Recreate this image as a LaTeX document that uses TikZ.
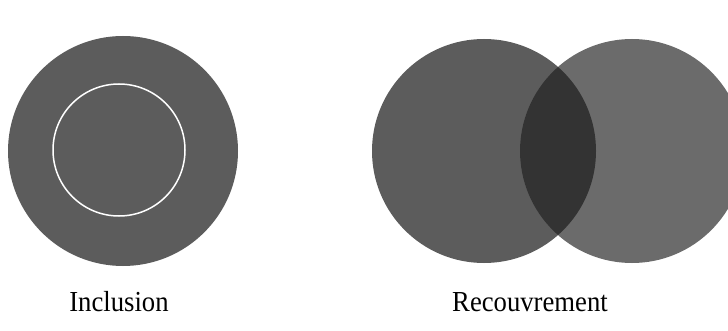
\documentclass[tikz,border=0pt]{standalone}
\usepackage{fontspec}
\setmainfont{Liberation Serif}
\begin{document}
\begin{tikzpicture}[x=1pt,y=-1pt,
  disc/.style={circle,inner sep=0pt,draw=none},
  lbl/.style={anchor=base,inner sep=0pt,xscale=0.92,font=\fontsize{29}{34}\selectfont}]
\clip (0,0) rectangle (728,331);
\fill[white] (0,0) rectangle (728,331);
% Inclusion
\node[disc,fill=black!64,minimum size=230pt] (outer) at (123,151) {};
\node[disc,draw=white,line width=1.5pt,minimum size=132pt] (inner) at (119,150) {};
% Recouvrement
\node[disc,fill=black!64,minimum size=224pt] (left) at (484,151) {};
\node[disc,fill=black!58,minimum size=224pt] (right) at (632,151) {};
\begin{scope}
  \clip (484,151) circle (112);
  \fill[black!80] (632,151) circle (112);
\end{scope}
\node[lbl] (inc) at (119,311) {Inclusion};
\node[lbl] (rec) at (530,311) {Recouvrement};
\end{tikzpicture}
\end{document}
